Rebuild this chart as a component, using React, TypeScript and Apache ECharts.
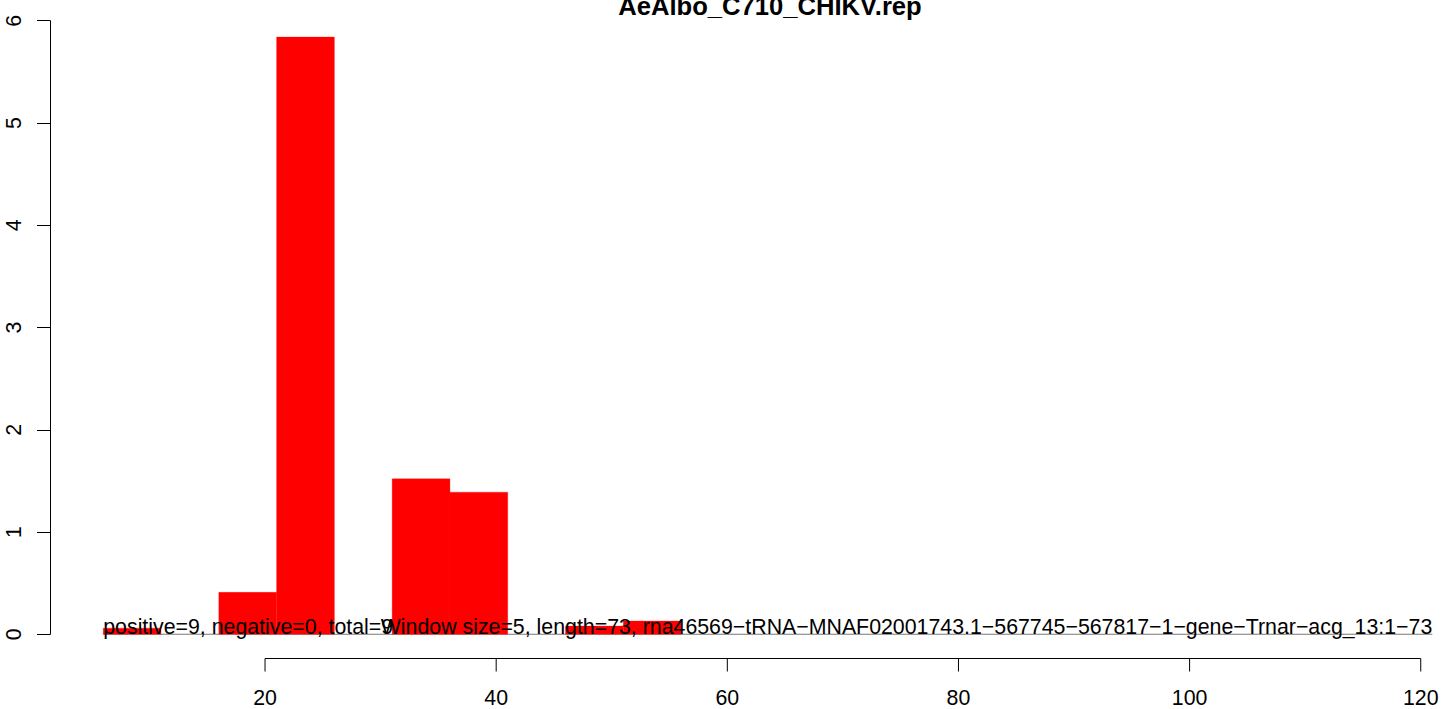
import React, { useEffect, useRef } from "react";
import * as echarts from "echarts";

// Histogram bins (window size 5): start of each non-empty bin and its height
const binStarts = [6, 16, 21, 31, 36, 46, 51];
const binWidth = 5;
const binValues = [0.06, 0.41, 5.84, 1.52, 1.39, 0.08, 0.13];

// Baseline segment at y = 0 spanning the histogram range
const baseLine = [
  [6, 0],
  [121, 0],
];

const xTicks = [20, 40, 60, 80, 100, 120];
const yTicks = [0, 1, 2, 3, 4, 5, 6];

const annotationTexts = [
  "positive=9, negative=0, total=9",
  "Window size=5, length=73, rna46569\u2212tRNA\u2212MNAF02001743.1\u2212567745\u2212567817\u22121\u2212gene\u2212Trnar\u2212acg_13:1\u221273",
];
const annotationX = [6, 121];
const annotationAlign = ["left", "right"];

const titleText = "AeAlbo_C710_CHIKV.rep";

const FONT = "'Liberation Sans', Arial, Helvetica, sans-serif";
const FS = 21.33;
const X_AXIS_OFFSET = 24;
const TICK_LEN = 13;

export default function App() {
  const ref = useRef<HTMLDivElement>(null);

  useEffect(() => {
    if (!ref.current) return;
    const chart = echarts.init(ref.current, undefined, { renderer: "svg" });

    const binData = binStarts.map((s, i) => [s, s + binWidth, binValues[i]]);
    const annData = annotationX.map((x) => [x, 0]);

    const option: any = {
      animation: false,
      backgroundColor: "#ffffff",
      grid: { left: 33.9, right: 11.7, top: 20.7, bottom: 74.7, containLabel: false },
      xAxis: {
        type: "value",
        min: 0,
        max: 121,
        offset: X_AXIS_OFFSET,
        axisLine: { show: false },
        axisTick: { show: false },
        axisLabel: {
          customValues: xTicks,
          margin: 29,
          fontSize: FS,
          fontFamily: FONT,
          color: "#000",
        },
        splitLine: { show: false },
      },
      yAxis: {
        type: "value",
        min: 0,
        max: 6,
        interval: 1,
        offset: -16.1,
        axisLine: { show: true, lineStyle: { color: "#000", width: 1 } },
        axisTick: { show: true, length: TICK_LEN, lineStyle: { color: "#000", width: 1 } },
        axisLabel: {
          rotate: 90,
          margin: 26,
          fontSize: FS,
          fontFamily: FONT,
          color: "#000",
          customValues: yTicks,
        },
        splitLine: { show: false },
      },
      series: [
        {
          type: "line",
          data: baseLine,
          symbol: "none",
          lineStyle: { color: "#555555", width: 1 },
          z: 1,
        },
        {
          type: "custom",
          data: binData,
          z: 2,
          renderItem: (params: any, api: any) => {
            const p0 = api.coord([api.value(0), api.value(2)]);
            const p1 = api.coord([api.value(1), 0]);
            return {
              type: "rect",
              shape: { x: p0[0], y: p0[1], width: p1[0] - p0[0], height: p1[1] - p0[1] },
              style: { fill: "#ff0000", stroke: "#ff0000", lineWidth: 0.3 },
            };
          },
        },
        {
          type: "custom",
          data: annData,
          z: 3,
          renderItem: (params: any, api: any) => {
            const p = api.coord([api.value(0), api.value(1)]);
            return {
              type: "text",
              x: p[0],
              y: p[1] + 3.3,
              style: {
                text: annotationTexts[params.dataIndex],
                textAlign: annotationAlign[params.dataIndex],
                textVerticalAlign: "bottom",
                fontSize: FS,
                fontFamily: FONT,
                fill: "#000",
              },
            };
          },
        },
      ],
    };

    chart.setOption(option);

    const y0 = chart.convertToPixel({ yAxisIndex: 0 }, 0) as number;
    const axisY = Math.round(y0 + X_AXIS_OFFSET) + 0.5;
    const tickPx = xTicks.map((t) => chart.convertToPixel({ xAxisIndex: 0 }, t) as number);

    const graphics: any[] = [
      {
        type: "line",
        shape: { x1: tickPx[0], y1: axisY, x2: tickPx[tickPx.length - 1], y2: axisY },
        style: { stroke: "#000", lineWidth: 1 },
        z: 10,
      },
      ...tickPx.map((x) => ({
        type: "line",
        shape: { x1: x, y1: axisY, x2: x, y2: axisY + TICK_LEN },
        style: { stroke: "#000", lineWidth: 1 },
        z: 10,
      })),
      {
        type: "text",
        x: 770,
        y: 18.8,
        style: {
          text: titleText,
          textAlign: "center",
          textVerticalAlign: "bottom",
          fontSize: 25.6,
          fontWeight: "bold",
          fontFamily: FONT,
          fill: "#000",
        },
        z: 10,
      },
    ];

    chart.setOption({ graphic: graphics });

    return () => chart.dispose();
  }, []);

  return (
    <div
      ref={ref}
      style={{ position: "fixed", left: 0, top: 0, width: 1444, height: 709 }}
    />
  );
}
